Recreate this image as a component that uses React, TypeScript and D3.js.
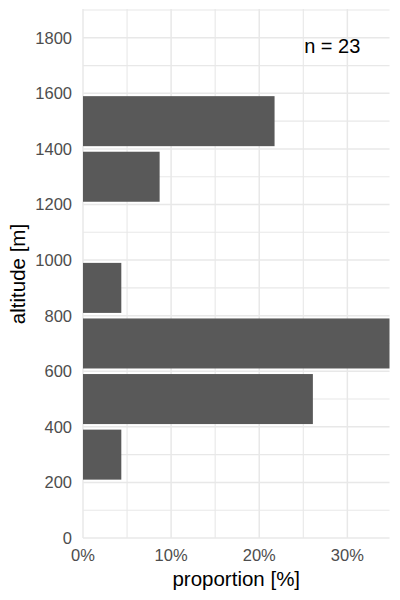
import React from "react";
import * as d3 from "d3";

const binStarts = [200, 400, 600, 800, 1200, 1400];
const binWidth = 200;
const counts = [1, 6, 8, 1, 2, 5];
const nTotal = 23;
const yMajorTicks = [0, 200, 400, 600, 800, 1000, 1200, 1400, 1600, 1800];
const yMinorTicks = [100, 300, 500, 700, 900, 1100, 1300, 1500, 1700, 1900];
const xMajorTicks = [0, 10, 20, 30];
const xMinorTicks = [5, 15, 25];
const annotation = { x: 25.1, y: 1745, label: "n = 23" };

const W = 400;
const H = 600;
const panel = { left: 83, right: 389.5, top: 10, bottom: 538 };
const FONT = "'Liberation Sans', Arial, Helvetica, sans-serif";

export default function App() {
  const proportions = counts.map((c) => (c / nTotal) * 100);
  const xMax = d3.max(proportions) as number;
  const x = d3.scaleLinear().domain([0, xMax]).range([panel.left, panel.right]);
  const y = d3.scaleLinear().domain([0, 1900]).range([panel.bottom, panel.top]);
  const gridColor = "#E8E8E8";
  const pad = binWidth * 0.05;

  return (
    <svg
      width={W}
      height={H}
      style={{ position: "absolute", left: 0, top: 0, background: "#fff" }}
      fontFamily={FONT}
    >
      <g>
        {yMinorTicks.map((t) => (
          <line key={"ym" + t} x1={panel.left} x2={panel.right} y1={y(t)} y2={y(t)} stroke={gridColor} strokeWidth={1.1} />
        ))}
        {xMinorTicks.map((t) => (
          <line key={"xm" + t} x1={x(t)} x2={x(t)} y1={panel.top - 1} y2={panel.bottom} stroke={gridColor} strokeWidth={1.1} />
        ))}
        {yMajorTicks.map((t) => (
          <line key={"yM" + t} x1={panel.left} x2={panel.right} y1={y(t)} y2={y(t)} stroke={gridColor} strokeWidth={1.5} />
        ))}
        {xMajorTicks.map((t) => (
          <line key={"xM" + t} x1={x(t)} x2={x(t)} y1={panel.top - 1} y2={panel.bottom} stroke={gridColor} strokeWidth={1.5} />
        ))}
      </g>
      <g>
        {binStarts.map((b, i) => (
          <rect
            key={"bar" + b}
            x={x(0)}
            y={y(b + binWidth - pad)}
            width={x(proportions[i]) - x(0)}
            height={y(b + pad) - y(b + binWidth - pad)}
            fill="#595959"
          />
        ))}
      </g>
      <g fill="#4D4D4D" fontSize={16.5}>
        {yMajorTicks.map((t) => (
          <text key={"yl" + t} x={72} y={y(t)} dy="0.36em" textAnchor="end">
            {t}
          </text>
        ))}
        {xMajorTicks.map((t) => (
          <text key={"xl" + t} x={x(t)} y={561} textAnchor="middle">
            {t + "%"}
          </text>
        ))}
      </g>
      <text x={(panel.left + panel.right) / 2} y={586} textAnchor="middle" fontSize={20.5} fill="#000">
        proportion [%]
      </text>
      <text
        transform={`translate(25, ${(panel.top + panel.bottom) / 2}) rotate(-90)`}
        textAnchor="middle"
        fontSize={20.5}
        fill="#000"
      >
        altitude [m]
      </text>
      <text x={x(annotation.x)} y={y(annotation.y)} fontSize={20} fill="#000">
        {annotation.label}
      </text>
    </svg>
  );
}
